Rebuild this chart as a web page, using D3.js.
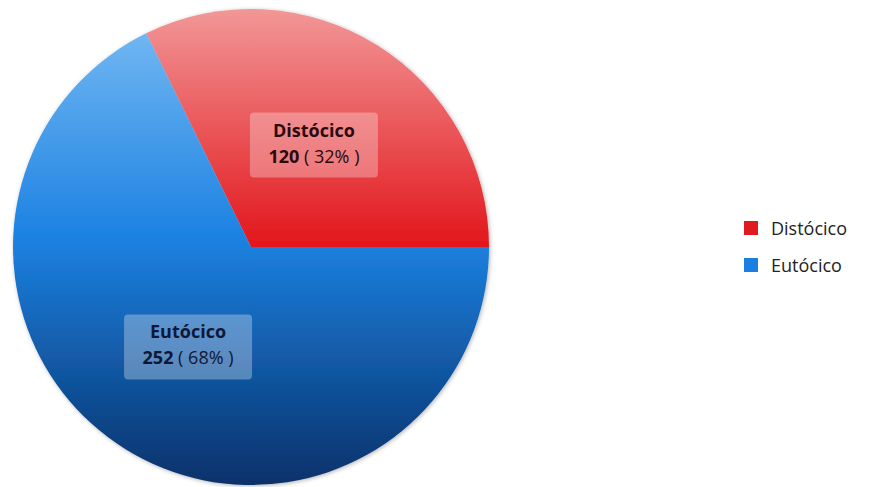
<!DOCTYPE html>
<html>
<head>
<meta charset="utf-8">
<script src="https://cdn.jsdelivr.net/npm/d3@7"></script>
<style>
  html, body { margin: 0; padding: 0; background: #ffffff; }
  svg { display: block; }
  text { font-family: "Open Sans", "Noto Sans", sans-serif; }
</style>
</head>
<body>
<svg id="chart" width="874" height="487"></svg>
<script>
// Data
const categories = ["Distócico", "Eutócico"];
const values = [120, 252];
const percents = ["32%", "68%"];
const colors = ["#e11a1f", "#1a7fe0"];

const W = 874, H = 487;
const cx = 251, cy = 247, R = 238;

const svg = d3.select("#chart");
const defs = svg.append("defs");

// gradients per slice (vertical)
const gradStops = [
  [[0, "#f29797"], [1, "#e2161c"]],
  [[0, "#70b6f2"], [0.45, "#1c82e2"], [1, "#08316a"]]
];
gradStops.forEach((stops, i) => {
  const g = defs.append("linearGradient")
    .attr("id", "grad" + i)
    .attr("x1", 0).attr("y1", 0).attr("x2", 0).attr("y2", 1);
  stops.forEach(s => g.append("stop").attr("offset", s[0]).attr("stop-color", s[1]));
});

const f = defs.append("filter").attr("id", "shadow")
  .attr("x", "-10%").attr("y", "-10%").attr("width", "120%").attr("height", "120%");
f.append("feDropShadow").attr("dx", 1).attr("dy", 1).attr("stdDeviation", 2)
  .attr("flood-color", "#000").attr("flood-opacity", 0.3);

const data = categories.map((c, i) => ({ name: c, value: values[i], pct: percents[i], i }));

const pie = d3.pie().value(d => d.value).sort(null)
  .startAngle(Math.PI / 2).endAngle(Math.PI / 2 - 2 * Math.PI);
const arcs = pie(data);

const arc = d3.arc().innerRadius(0).outerRadius(R);
const labelArc = d3.arc().innerRadius(R / 2).outerRadius(R / 2);

const g = svg.append("g").attr("transform", `translate(${cx},${cy})`);

g.append("g").attr("filter", "url(#shadow)")
  .selectAll("path").data(arcs).join("path")
  .attr("d", arc)
  .attr("fill", d => `url(#grad${d.data.i})`);

// labels
const textColors = ["#2a0a0e", "#0e1836"];
const lbl = g.selectAll("g.lbl").data(arcs).join("g")
  .attr("class", "lbl")
  .attr("transform", d => {
    const c = labelArc.centroid(d);
    return `translate(${c[0]},${c[1]})`;
  });

lbl.each(function(d) {
  const sel = d3.select(this);
  const w = 128, h = 65;
  sel.append("rect")
    .attr("x", -w / 2).attr("y", -33.5).attr("width", w).attr("height", h)
    .attr("rx", 4).attr("ry", 4)
    .attr("fill", "#ffffff").attr("fill-opacity", 0.3);
  sel.append("text")
    .attr("text-anchor", "middle")
    .attr("y", -9.5)
    .attr("font-size", 18)
    .attr("font-weight", "bold")
    .attr("fill", textColors[d.data.i])
    .text(d.data.name);
  const t2 = sel.append("text")
    .attr("text-anchor", "middle")
    .attr("y", 16.5)
    .attr("font-size", 18)
    .attr("fill", textColors[d.data.i]);
  t2.append("tspan").attr("font-weight", "bold").text(d.data.value);
  t2.append("tspan").text(" ( " + d.data.pct + " )");
});

// legend
const legend = svg.append("g").attr("transform", "translate(744,0)");
const ly = d3.scalePoint().domain(categories).range([228, 265]);
legend.selectAll("rect").data(data).join("rect")
  .attr("x", 0).attr("y", d => ly(d.name) - 7)
  .attr("width", 14).attr("height", 14)
  .attr("fill", d => colors[d.i]);
legend.selectAll("text").data(data).join("text")
  .attr("x", 27).attr("y", d => ly(d.name) + 6.5)
  .attr("font-size", 18)
  .attr("fill", "#222")
  .text(d => d.name);
</script>
</body>
</html>
